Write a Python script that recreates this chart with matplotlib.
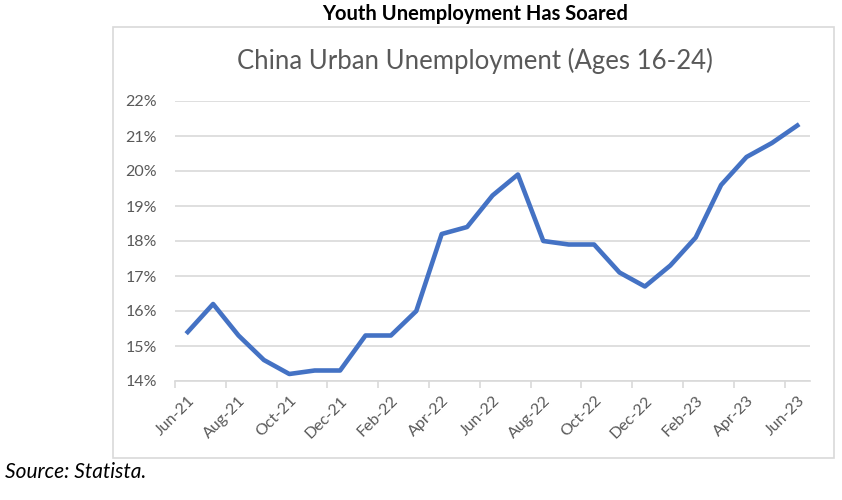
import numpy as np
import matplotlib
matplotlib.use("Agg")
import matplotlib.pyplot as plt
from matplotlib.patches import Rectangle
from matplotlib.ticker import FuncFormatter, FixedLocator

plt.rcParams['font.family'] = ['Lato', 'DejaVu Sans']

# monthly youth unemployment, Jun-21 .. Jun-23 (%)
months = ['Jun-21', 'Jul-21', 'Aug-21', 'Sep-21', 'Oct-21', 'Nov-21', 'Dec-21',
          'Jan-22', 'Feb-22', 'Mar-22', 'Apr-22', 'May-22', 'Jun-22', 'Jul-22',
          'Aug-22', 'Sep-22', 'Oct-22', 'Nov-22', 'Dec-22', 'Jan-23', 'Feb-23',
          'Mar-23', 'Apr-23', 'May-23', 'Jun-23']
rate = [15.4, 16.2, 15.3, 14.6, 14.2, 14.3, 14.3, 15.3, 15.3, 16.0, 18.2, 18.4,
        19.3, 19.9, 18.0, 17.9, 17.9, 17.1, 16.7, 17.3, 18.1, 19.6, 20.4, 20.8, 21.3]
y_ticks = [14, 15, 16, 17, 18, 19, 20, 21, 22]

grey = '#595959'
grid = '#d9d9d9'

fig = plt.figure(figsize=(8.42, 5), dpi=100)

# chart frame
fig.patches.append(Rectangle((113/842, 1-458/500), (834-113)/842, (458-27)/500,
                             transform=fig.transFigure, fill=False,
                             edgecolor=grid, linewidth=1.2))

ax = fig.add_axes([175/842, 1-381/500, (810-175)/842, (381-101)/500])
x = np.arange(len(months))
ax.plot(x, rate, color='#4472C4', linewidth=3.3, solid_joinstyle='round', zorder=3)

ax.set_xlim(-0.5, len(months) - 0.5)
ax.set_ylim(14, 22)
ax.set_yticks(y_ticks)
ax.yaxis.set_major_formatter(FuncFormatter(lambda v, p: f'{v:.0f}%'))
ax.grid(axis='y', color=grid, linewidth=1.2)
ax.set_axisbelow(True)

ax.set_xticks(x[::2])
ax.set_xticklabels(months[::2], rotation=45, ha='right', rotation_mode='anchor')
ax.xaxis.set_minor_locator(FixedLocator(np.arange(-0.5, len(months) - 1, 2)))
ax.tick_params(axis='x', which='major', length=0, pad=9, labelsize=11.5, labelcolor=grey)
ax.tick_params(axis='x', which='minor', length=5, width=1.2, color=grid)
ax.tick_params(axis='y', length=0, pad=13, labelsize=11.5, labelcolor=grey)

for s in ['top', 'right', 'left']:
    ax.spines[s].set_visible(False)
ax.spines['bottom'].set_color(grid)
ax.spines['bottom'].set_linewidth(1.2)

fig.text(475/842, 1-14/500, 'Youth Unemployment Has Soared', ha='center', va='center',
         fontsize=14.5, fontweight='bold', color='black')
fig.text(475/842, 1-61/500, 'China Urban Unemployment (Ages 16-24)', ha='center', va='center',
         fontsize=18.5, color=grey)
fig.text(5/842, 1-472/500, 'Source: Statista.', ha='left', va='center',
         fontsize=15, fontstyle='italic', color='black')

fig.savefig('out.png', dpi=100)
